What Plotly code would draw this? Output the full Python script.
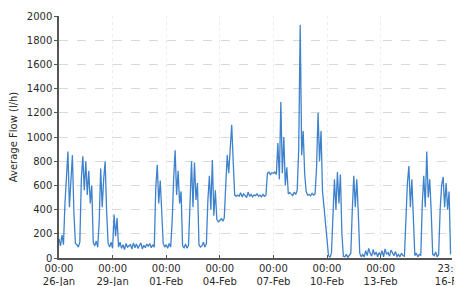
import pandas as pd
import plotly.graph_objects as go

# Average flow (l/h), 2-hour samples, one list per day (26-Jan .. 16-Feb)
day_26jan = [160, 100, 190, 110, 450, 650, 880, 420, 700, 850, 380, 120]
day_27jan = [110, 90, 130, 650, 840, 560, 800, 520, 720, 450, 600, 130]
day_28jan = [100, 140, 90, 300, 740, 420, 650, 800, 380, 120, 90, 130]
day_29jan = [80, 360, 180, 330, 90, 130, 80, 110, 70, 120, 90, 100]
day_30jan = [110, 75, 125, 85, 115, 80, 100, 125, 75, 105, 85, 115]
day_31jan = [95, 120, 85, 110, 90, 580, 770, 450, 640, 420, 120, 90]
day_01feb = [110, 80, 120, 90, 300, 650, 890, 520, 720, 450, 550, 100]
day_02feb = [85, 115, 80, 105, 450, 800, 420, 790, 480, 620, 110, 90]
day_03feb = [100, 130, 90, 120, 480, 680, 400, 810, 350, 560, 320, 300]
day_04feb = [310, 325, 305, 330, 600, 850, 700, 950, 1100, 800, 520, 510]
day_05feb = [520, 510, 540, 505, 530, 515, 500, 545, 510, 525, 505, 520]
day_06feb = [515, 530, 510, 520, 505, 525, 510, 520, 700, 710, 690, 705]
day_07feb = [700, 710, 690, 950, 650, 1290, 700, 1000, 600, 750, 530, 540]
day_08feb = [530, 515, 545, 525, 560, 900, 1925, 850, 1050, 700, 550, 520]
day_09feb = [525, 515, 535, 520, 530, 750, 1200, 800, 1050, 550, 420, 280]
day_10feb = [100, 20, 5, 40, 350, 650, 400, 710, 450, 690, 200, 15]
day_11feb = [10, 30, 5, 25, 40, 400, 680, 420, 650, 380, 40, 10]
day_12feb = [30, 10, 60, 20, 80, 40, 15, 70, 25, 50, 10, 45]
day_13feb = [20, 60, 10, 75, 30, 45, 15, 65, 35, 20, 55, 10]
day_14feb = [30, 10, 40, 20, 15, 400, 620, 760, 420, 650, 300, 20]
day_15feb = [40, 10, 30, 20, 450, 680, 420, 880, 500, 650, 380, 30]
day_16feb = [20, 50, 10, 30, 400, 600, 670, 420, 620, 400, 550, 30]

days = [day_26jan, day_27jan, day_28jan, day_29jan, day_30jan, day_31jan,
        day_01feb, day_02feb, day_03feb, day_04feb, day_05feb, day_06feb,
        day_07feb, day_08feb, day_09feb, day_10feb, day_11feb, day_12feb,
        day_13feb, day_14feb, day_15feb, day_16feb]
flow = [v for d in days for v in d]
times = pd.date_range("2015-01-26 00:00", periods=len(flow), freq="2h")

tick_dates = ["2015-01-26 00:00", "2015-01-29 00:00", "2015-02-01 00:00",
              "2015-02-04 00:00", "2015-02-07 00:00", "2015-02-10 00:00",
              "2015-02-13 00:00", "2015-02-16 23:45"]
tick_labels = ["00:00<br>26-Jan", "00:00<br>29-Jan", "00:00<br>01-Feb",
               "00:00<br>04-Feb", "00:00<br>07-Feb", "00:00<br>10-Feb",
               "00:00<br>13-Feb", "23:45<br>16-Feb"]

fig = go.Figure(go.Scatter(x=times, y=flow, mode="lines",
                           line=dict(color="#3f82cc", width=1.3)))

# the page body adds an 8px offset, so the figure is sized to fill the window
fig.update_layout(
    width=454, height=278,
    margin=dict(l=51, r=10, t=8, b=28, autoexpand=False),
    paper_bgcolor="white", plot_bgcolor="white",
    font=dict(family="DejaVu Sans", size=10, color="#2a2a2a"),
    showlegend=False,
)
fig.update_xaxes(
    range=["2015-01-26 00:00", "2015-02-16 23:55"],
    tickvals=tick_dates, ticktext=tick_labels, tickangle=0,
    ticklabeloverflow="allow",
    showline=True, linecolor="#555555", linewidth=1.5,
    ticks="inside", ticklen=3, tickcolor="#555555",
    showgrid=True, gridcolor="#ececec", griddash="dot", gridwidth=1,
    tickfont=dict(size=10), zeroline=False, automargin=False,
)
fig.update_yaxes(
    range=[0, 2000], dtick=200,
    title=dict(text="Average Flow (l/h)", font=dict(size=10), standoff=8),
    showline=True, linecolor="#555555", linewidth=1.5,
    ticks="outside", ticklen=3, tickcolor="#555555",
    showgrid=True, gridcolor="#d9d9d9", griddash="dash", gridwidth=1,
    tickfont=dict(size=10), zeroline=False, automargin=False,
)

fig.write_html("out.html")
